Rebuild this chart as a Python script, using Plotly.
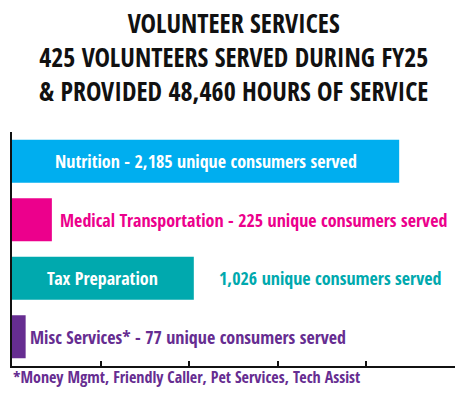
import plotly.graph_objects as go

categories = ["Nutrition", "Medical Transportation", "Tax Preparation", "Misc Services*"]
values = [2185, 225, 1026, 77]
colors = ["#00AEEF", "#EC008C", "#00A9AE", "#662D91"]
title_lines = ["VOLUNTEER SERVICES", "425 VOLUNTEERS SERVED DURING FY25",
               "& PROVIDED 48,460 HOURS OF SERVICE"]
footnote = "*Money Mgmt, Friendly Caller, Pet Services, Tech Assist"
tick_vals = [0, 500, 1000, 1500, 2000, 2500]

FONT = "Open Sans Condensed"
ypos = list(range(len(categories)))

# page body has an 8px default margin; figure is sized so the plot area lands
# at the same pixels as in the reference
W, H = 457, 391
ML, MR, MT, MB = 4, 10, 124, 33
PH = H - MT - MB

fig = go.Figure()
fig.add_trace(go.Bar(
    x=values, y=ypos, orientation="h", width=0.735,
    marker=dict(color=colors, line=dict(width=0)),
    hoverinfo="skip", showlegend=False,
))

ann = []
ann.append(dict(text="<br>".join(f"<b>{t}</b>" for t in title_lines), xref="paper", yref="paper",
                x=0.5, y=1.0 + (MT + 4) / PH, xanchor="center", yanchor="top", showarrow=False,
                borderpad=0,
                font=dict(family=FONT, size=26, color="#111111")))
# Bar labels
ann.append(dict(text=f"<b>{categories[0]} - {values[0]:,} unique consumers served</b>",
                x=1095, y=0, xref="x", yref="y", xanchor="center", yanchor="middle",
                showarrow=False, font=dict(family=FONT, size=18, color="white")))
ann.append(dict(text=f"<b>{categories[1]} - {values[1]:,} unique consumers served</b>",
                x=262, y=1, xref="x", yref="y", xanchor="left", yanchor="middle",
                showarrow=False, font=dict(family=FONT, size=18, color=colors[1])))
ann.append(dict(text=f"<b>{categories[2]}</b>",
                x=513, y=2, xref="x", yref="y", xanchor="center", yanchor="middle",
                showarrow=False, font=dict(family=FONT, size=18, color="white")))
ann.append(dict(text=f"<b>{values[2]:,} unique consumers served</b>",
                x=1155, y=2, xref="x", yref="y", xanchor="left", yanchor="middle",
                showarrow=False, font=dict(family=FONT, size=18, color=colors[2])))
ann.append(dict(text=f"<b>{categories[3]} - {values[3]:,} unique consumers served</b>",
                x=93, y=3, xref="x", yref="y", xanchor="left", yanchor="middle",
                showarrow=False, font=dict(family=FONT, size=18, color=colors[3])))
ann.append(dict(text=f"<b>{footnote}</b>", xref="paper", yref="paper",
                x=-0.003, y=-0.047, xanchor="left", yanchor="middle", showarrow=False,
                font=dict(family=FONT, size=16, color=colors[3])))

fig.update_layout(
    width=W, height=H,
    margin=dict(l=ML, r=MR, t=MT, b=MB),
    paper_bgcolor="white", plot_bgcolor="white",
    annotations=ann,
    xaxis=dict(range=[0, 2500], tickvals=tick_vals, showticklabels=False,
               ticks="inside", ticklen=5, tickwidth=1.5, tickcolor="#111",
               showline=True, linecolor="#111", linewidth=2,
               showgrid=False, zeroline=False, fixedrange=True),
    yaxis=dict(range=[3.5, -0.5], showticklabels=False, ticks="",
               showline=True, linecolor="#111", linewidth=2,
               showgrid=False, zeroline=False, fixedrange=True),
)
fig.write_html("out.html")
